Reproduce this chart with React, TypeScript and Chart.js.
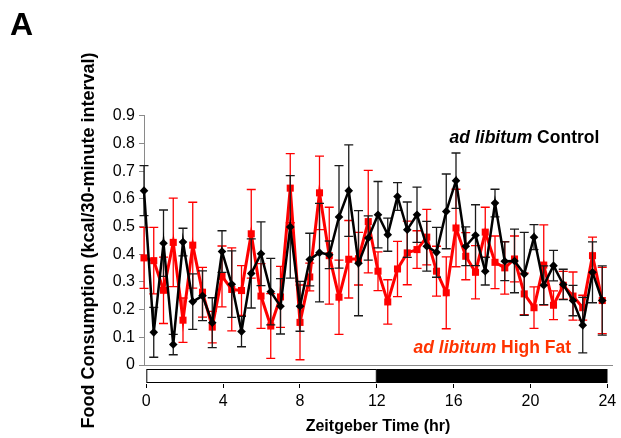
import React, { useEffect, useRef } from 'react';
import { Chart, registerables } from 'chart.js';

Chart.register(...registerables);

const FONT = "'Liberation Sans', Arial, Helvetica, sans-serif";

// ---------- data ----------
const timeHours = [
  0, 0.5, 1, 1.5, 2, 2.5, 3, 3.5, 4, 4.5, 5, 5.5, 6, 6.5, 7, 7.5,
  8, 8.5, 9, 9.5, 10, 10.5, 11, 11.5, 12, 12.5, 13, 13.5, 14, 14.5, 15, 15.5,
  16, 16.5, 17, 17.5, 18, 18.5, 19, 19.5, 20, 20.5, 21, 21.5, 22, 22.5, 23, 23.5,
];

const controlMean = [
  0.63, 0.118, 0.44, 0.074, 0.444, 0.229, 0.25, 0.153, 0.41, 0.292,
  0.121, 0.331, 0.402, 0.265, 0.212, 0.499, 0.212, 0.381, 0.406, 0.398,
  0.535, 0.63, 0.368, 0.459, 0.543, 0.471, 0.609, 0.489, 0.543, 0.429,
  0.407, 0.555, 0.666, 0.429, 0.469, 0.339, 0.585, 0.375, 0.376, 0.329,
  0.462, 0.288, 0.359, 0.291, 0.233, 0.144, 0.335, 0.233,
];
const controlSem = [
  0.09, 0.09, 0.12, 0.037, 0.05, 0.1, 0.09, 0.09, 0.075, 0.12,
  0.055, 0.125, 0.115, 0.12, 0.1, 0.185, 0.09, 0.095, 0.178, 0.05,
  0.185, 0.165, 0.19, 0.08, 0.12, 0.06, 0.05, 0.1, 0.1, 0.09,
  0.09, 0.135, 0.1, 0.07, 0.11, 0.05, 0.05, 0.07, 0.115, 0.15,
  0.045, 0.07, 0.055, 0.055, 0.055, 0.1, 0.11, 0.125,
];

const highFatMean = [
  0.387, 0.377, 0.27, 0.443, 0.162, 0.433, 0.263, 0.137, 0.32, 0.273,
  0.269, 0.474, 0.249, 0.141, 0.246, 0.639, 0.154, 0.318, 0.622, 0.395,
  0.245, 0.382, 0.384, 0.518, 0.339, 0.228, 0.347, 0.405, 0.417, 0.462,
  0.339, 0.261, 0.495, 0.393, 0.335, 0.48, 0.371, 0.351, 0.383, 0.257,
  0.207, 0.361, 0.216, 0.288, 0.249, 0.207, 0.395, 0.233,
];
const highFatSem = [
  0.11, 0.12, 0.12, 0.16, 0.08, 0.155, 0.09, 0.057, 0.11, 0.15,
  0.09, 0.16, 0.117, 0.117, 0.11, 0.125, 0.135, 0.05, 0.133, 0.175,
  0.134, 0.14, 0.095, 0.185, 0.07, 0.08, 0.1, 0.115, 0.068, 0.1,
  0.09, 0.13, 0.14, 0.085, 0.096, 0.09, 0.095, 0.095, 0.083, 0.075,
  0.075, 0.145, 0.052, 0.05, 0.087, 0.045, 0.067, 0.12,
];

const hourTicks = [0, 4, 8, 12, 16, 20, 24];
const yTickValues = [0, 0.1, 0.2, 0.3, 0.4, 0.5, 0.6, 0.7, 0.8, 0.9];
const yTickLabels = ['0', '0.1', '0.2', '0.3', '0.4', '0.5', '0.6', '0.7', '0.8', '0.9'];

const phaseStart = [0, 12];
const phaseEnd = [12, 24];
const phaseFill = ['#ffffff', '#000000'];

const seriesItalic = ['ad libitum', 'ad libitum'];
const seriesRest = [' Control', ' High Fat'];
const seriesColors = ['#000000', '#ff0000'];
const seriesTextColors = ['#000000', '#ff3300'];

// ---------- plugins ----------
const errorBarPlugin = {
  id: 'errorBars',
  beforeDatasetDraw(chart: any, args: any) {
    const ds: any = chart.data.datasets[args.index];
    const errs: number[] = ds.sem;
    if (!errs) return;
    const yScale = chart.scales.y;
    const ctx = chart.ctx;
    const cap = 4.5;
    ctx.save();
    ctx.strokeStyle = ds.errorColor;
    ctx.lineWidth = 1.3;
    args.meta.data.forEach((pt: any, i: number) => {
      const v = ds.data[i].y;
      const e = errs[i];
      const x = pt.x;
      const yt = yScale.getPixelForValue(v + e);
      const yb = yScale.getPixelForValue(v - e);
      ctx.beginPath();
      ctx.moveTo(x, yt);
      ctx.lineTo(x, yb);
      ctx.moveTo(x - cap, yt);
      ctx.lineTo(x + cap, yt);
      ctx.moveTo(x - cap, yb);
      ctx.lineTo(x + cap, yb);
      ctx.stroke();
    });
    ctx.restore();
  },
};

const phaseBarPlugin = {
  id: 'phaseBar',
  afterDraw(chart: any) {
    const x2 = chart.scales.x2;
    const xs = chart.scales.x;
    const ctx = chart.ctx;
    const top = xs.top + 4;
    const bottom = xs.bottom - 1;
    ctx.save();
    ctx.lineWidth = 1;
    ctx.strokeStyle = '#000000';
    phaseStart.forEach((s, i) => {
      const a = x2.getPixelForValue(s);
      const b = x2.getPixelForValue(phaseEnd[i]);
      ctx.fillStyle = phaseFill[i];
      ctx.fillRect(a, top, b - a, bottom - top);
      ctx.strokeRect(a + 0.5, top + 0.5, b - a - 1, bottom - top - 1);
    });
    ctx.restore();
  },
};

const seriesNotePlugin = {
  id: 'seriesNotes',
  afterDatasetsDraw(chart: any, _args: any, opts: any) {
    const ctx = chart.ctx;
    const xs = chart.scales.x;
    const ys = chart.scales.y;
    const size = 17.5;
    (opts.notes || []).forEach((n: any, i: number) => {
      ctx.save();
      const itFont = `italic bold ${size}px ${FONT}`;
      const rgFont = `bold ${size}px ${FONT}`;
      ctx.font = itFont;
      const w1 = ctx.measureText(seriesItalic[i]).width;
      ctx.font = rgFont;
      const w2 = ctx.measureText(seriesRest[i]).width;
      const right = xs.getPixelForValue(n.x);
      const base = ys.getPixelForValue(n.y);
      const start = right - w1 - w2;
      ctx.fillStyle = seriesTextColors[i];
      ctx.textBaseline = 'alphabetic';
      ctx.textAlign = 'left';
      ctx.font = itFont;
      ctx.fillText(seriesItalic[i], start, base);
      ctx.font = rgFont;
      ctx.fillText(seriesRest[i], start + w1, base);
      ctx.restore();
    });
  },
};

export default function App() {
  const ref = useRef<HTMLCanvasElement | null>(null);

  useEffect(() => {
    if (!ref.current) return;
    const mk = (means: number[]) => means.map((v, i) => ({ x: timeHours[i], y: v }));
    const chart = new Chart(ref.current, {
      type: 'line',
      data: {
        datasets: [
          {
            label: seriesItalic[0] + seriesRest[0],
            data: mk(controlMean),
            sem: controlSem,
            errorColor: '#1a1a1a',
            borderColor: seriesColors[0],
            backgroundColor: seriesColors[0],
            borderWidth: 2.5,
            pointStyle: 'rectRot',
            pointRadius: 4.3,
            pointBorderWidth: 0,
            tension: 0,
            clip: false,
          } as any,
          {
            label: seriesItalic[1] + seriesRest[1],
            data: mk(highFatMean),
            sem: highFatSem,
            errorColor: '#ff0000',
            borderColor: seriesColors[1],
            backgroundColor: seriesColors[1],
            borderWidth: 3,
            pointStyle: 'rect',
            pointRadius: 5,
            pointBorderWidth: 0,
            tension: 0,
            clip: false,
          } as any,
        ],
      },
      options: {
        animation: false,
        responsive: false,
        devicePixelRatio: 1,
        layout: { padding: { left: 10, right: 9, top: 0, bottom: 0 } },
        plugins: {
          legend: { display: false },
          tooltip: { enabled: false },
          title: {
            display: true,
            text: 'A',
            align: 'start',
            color: '#000000',
            font: { family: FONT, size: 32, weight: 'bold', lineHeight: 1.2 },
            padding: { top: 7, bottom: 70.5 },
          },
          seriesNotes: {
            notes: [
              { x: 23.35, y: 0.801 },
              { x: 21.9, y: 0.042 },
            ],
          },
        } as any,
        scales: {
          x: {
            type: 'linear',
            position: 'bottom',
            weight: 0,
            min: 0,
            max: 24,
            ticks: { display: false },
            grid: { display: false, drawTicks: false },
            border: { display: true, color: '#8a8a8a', width: 1 },
            afterFit: (s: any) => { s.height = 19; },
          },
          x2: {
            type: 'linear',
            position: 'bottom',
            weight: 1,
            min: -0.12,
            max: 24.245,
            afterBuildTicks: (s: any) => { s.ticks = hourTicks.map((v) => ({ value: v })); },
            ticks: {
              color: '#000000',
              font: { family: FONT, size: 16 },
              padding: 4,
              maxRotation: 0,
              autoSkip: false,
              callback: (v: any) => String(v),
            },
            grid: { display: true, drawOnChartArea: false, drawTicks: true, tickLength: 4, color: '#000000' },
            border: { display: false },
            title: {
              display: true,
              text: 'Zeitgeber Time (hr)',
              color: '#000000',
              font: { family: FONT, size: 16, weight: 'bold' },
              padding: { top: 0, bottom: 1.5 },
            },
            afterFit: (s: any) => { s.height = 54; },
          },
          y: {
            type: 'linear',
            position: 'left',
            min: 0,
            max: 0.9,
            afterBuildTicks: (s: any) => { s.ticks = yTickValues.map((v) => ({ value: v })); },
            ticks: {
              color: '#000000',
              font: { family: FONT, size: 16 },
              padding: 4,
              callback: (_v: any, i: number) => yTickLabels[i],
            },
            grid: { display: true, drawOnChartArea: false, drawTicks: true, tickLength: 5, color: '#8a8a8a' },
            border: { display: true, color: '#8a8a8a', width: 1 },
            title: {
              display: true,
              text: 'Food Consumption (kcal/30-minute interval)',
              color: '#000000',
              font: { family: FONT, size: 18, weight: 'bold' },
              padding: { top: 68, bottom: 0 },
            },
            afterFit: (s: any) => { s.width = 134; },
          },
        } as any,
      },
      plugins: [errorBarPlugin, phaseBarPlugin, seriesNotePlugin],
    });
    return () => chart.destroy();
  }, []);

  return (
    <div style={{ position: 'fixed', left: 0, top: 0, width: 621, height: 438, background: '#ffffff' }}>
      <canvas ref={ref} width={621} height={438} style={{ width: 621, height: 438, display: 'block' }} />
    </div>
  );
}
